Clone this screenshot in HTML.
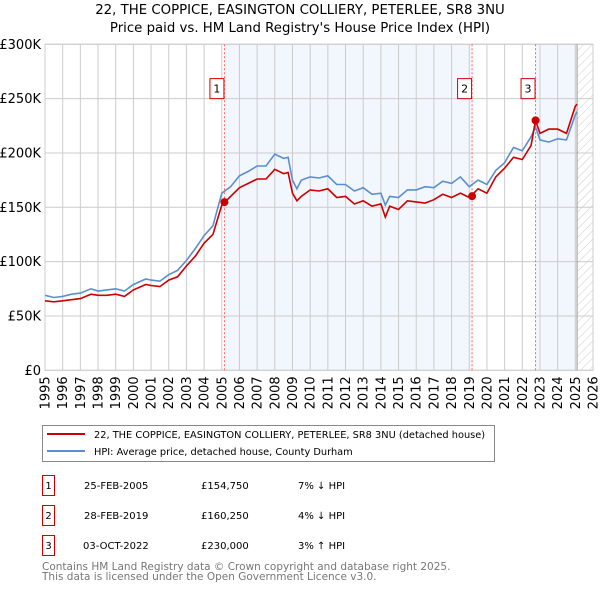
<!DOCTYPE html>
<html><head><meta charset="utf-8"><style>
body{margin:0;background:#fff;font-family:"DejaVu Sans","Liberation Sans",sans-serif;}
svg text{font-family:"DejaVu Sans","Liberation Sans",sans-serif;}
</style></head><body>
<svg id="c" width="600" height="590" xmlns="http://www.w3.org/2000/svg">
<defs><pattern id="hatch" width="6" height="6" patternUnits="userSpaceOnUse" patternTransform="rotate(45)"><line x1="0" y1="0" x2="0" y2="6" stroke="#ccc" stroke-width="1"/></pattern></defs>
<text x="300" y="14" text-anchor="middle" font-size="13.3" fill="#000">22, THE COPPICE, EASINGTON COLLIERY, PETERLEE, SR8 3NU</text>
<text x="300" y="32" text-anchor="middle" font-size="13.3" fill="#000">Price paid vs. HM Land Registry's House Price Index (HPI)</text>
<g id="plot"></g>
<g>
<rect x="42.5" y="425.5" width="452" height="36" fill="#fff" stroke="#888"/>
<line x1="47" y1="434" x2="85" y2="434" stroke="#cc0000" stroke-width="2"/>
<text x="94" y="438" font-size="9.8">22, THE COPPICE, EASINGTON COLLIERY, PETERLEE, SR8 3NU (detached house)</text>
<line x1="47" y1="451" x2="85" y2="451" stroke="#5b8fd0" stroke-width="2"/>
<text x="94" y="455" font-size="9.8">HPI: Average price, detached house, County Durham</text>
</g>
<g font-size="10">
<rect x="42.5" y="475.5" width="12" height="20" fill="#fff" stroke="#cc0000"/><text x="48.5" y="489" text-anchor="middle">1</text>
<text x="84" y="489">25-FEB-2005</text><text x="201" y="489">£154,750</text><text x="298" y="489">7% ↓ HPI</text>
<rect x="42.5" y="505.5" width="12" height="20" fill="#fff" stroke="#cc0000"/><text x="48.5" y="519" text-anchor="middle">2</text>
<text x="84" y="519">28-FEB-2019</text><text x="201" y="519">£160,250</text><text x="298" y="519">4% ↓ HPI</text>
<rect x="42.5" y="535.5" width="12" height="20" fill="#fff" stroke="#cc0000"/><text x="48.5" y="549" text-anchor="middle">3</text>
<text x="83" y="549">03-OCT-2022</text><text x="201" y="549">£230,000</text><text x="298" y="549">3% ↑ HPI</text>
</g>
<text x="42" y="570" font-size="10.5" fill="#777">Contains HM Land Registry data © Crown copyright and database right 2025.</text>
<text x="42" y="580" font-size="10.5" fill="#777">This data is licensed under the Open Government Licence v3.0.</text>
</svg>
<script>
const yTicks=[0,50,100,150,200,250,300];
const yTickLabels=["£0","£50K","£100K","£150K","£200K","£250K","£300K"];
const xTickYears=[1995,1996,1997,1998,1999,2000,2001,2002,2003,2004,2005,2006,2007,2008,2009,2010,2011,2012,2013,2014,2015,2016,2017,2018,2019,2020,2021,2022,2023,2024,2025,2026];
const hpiYears=[1995,1995.5,1996,1996.5,1997,1997.6,1998,1998.5,1999,1999.5,2000,2000.7,2001,2001.5,2002,2002.5,2003,2003.5,2004,2004.5,2005,2005.5,2006,2006.5,2007,2007.5,2008,2008.5,2008.75,2009,2009.25,2009.5,2010,2010.5,2011,2011.5,2012,2012.5,2013,2013.5,2014,2014.25,2014.5,2015,2015.5,2016,2016.5,2017,2017.5,2018,2018.5,2019,2019.5,2020,2020.5,2021,2021.5,2022,2022.5,2022.75,2023,2023.5,2024,2024.5,2025,2025.1];
const hpiValues=[69,67,68,70,71,75,73,74,75,73,79,84,83,82,88,92,101,112,124,133,163,169,179,183,188,188,199,195,196,175,167,175,178,177,179,171,171,165,168,162,163,152,160,159,166,166,169,168,174,172,178,169,175,171,184,191,205,202,215,224,212,210,213,212,235,238];
const priceValues=[64,63,64,65,66,70,69,69,70,68,74,79,78,77,83,86,96,105,117,125,152,160,168,172,176,176,185,181,182,163,156,160,166,165,167,159,160,153,156,151,153,141,151,148,156,155,154,157,162,159,163,159,167,163,178,186,196,194,207,230,218,222,222,218,243,245];
const saleYears=[2005.15,2019.16,2022.75];
const saleValues=[154.75,160.25,230];
const saleLabels=["1","2","3"];
const NS="http://www.w3.org/2000/svg";
const L=45,R=593,T=44.3,B=370.3;
const x=v=>L+(v-1995)/31*(R-L);
const y=v=>B-v/300*(B-T);
const g=document.getElementById('plot');
function mk(t,a,p){const e=document.createElementNS(NS,t);for(const k in a)e.setAttribute(k,a[k]);(p||g).appendChild(e);return e;}
let s1=mk('rect',{x:x(saleYears[0]),y:T,width:x(saleYears[1])-x(saleYears[0]),height:B-T,fill:'#f2f6fd'});


let s2=mk('rect',{x:x(saleYears[2]),y:T,width:x(2025.1)-x(saleYears[2]),height:B-T,fill:'#f2f6fd'});


let h=mk('rect',{x:x(2025.1),y:T,width:R-x(2025.1),height:B-T,fill:'url(#hatch)'});


xTickYears.forEach(v=>{const l=mk('line',{x1:x(v),x2:x(v),y1:T,y2:B,stroke:'#ccc'});


const t=mk('text',{x:0,y:0,'font-size':13,'text-anchor':'end',transform:`translate(${x(v)+4.5},${B+6}) rotate(-90)`});t.textContent=v;

});
yTicks.forEach((v,i)=>{const l=mk('line',{x1:L,x2:R,y1:y(v),y2:y(v),stroke:'#ccc'});


const t=mk('text',{x:L-4,y:y(v)+4.5,'font-size':13,'text-anchor':'end'});t.textContent=yTickLabels[i];

});
let fr=mk('rect',{x:L,y:T,width:R-L,height:B-T,fill:'none',stroke:'#ccc'});


let el=mk('line',{x1:x(2025.1),x2:x(2025.1),y1:T,y2:B,stroke:'#999'});


saleYears.forEach((v,i)=>{const l=mk('line',{x1:x(v),x2:x(v),y1:T,y2:B,stroke:'#f66','stroke-dasharray':'2,2'});


const r=mk('rect',{x:x(v)-14.5,y:y(250)-20,width:14,height:20,fill:'#fff',stroke:'#cc0000'});


const t=mk('text',{x:x(v)-7.5,y:y(250)-6,'font-size':11,'text-anchor':'middle'});t.textContent=saleLabels[i];

});
const pts=(vals)=>hpiYears.map((yr,i)=>x(yr).toFixed(1)+','+y(vals[i]).toFixed(1)).join(' ');
let hp=mk('polyline',{points:pts(hpiValues),fill:'none',stroke:'#5b8fd0','stroke-width':1.6});


let pp=mk('polyline',{points:pts(priceValues),fill:'none',stroke:'#cc0000','stroke-width':1.6});


saleYears.forEach((v,i)=>{const c=mk('circle',{cx:x(v),cy:y(saleValues[i]),r:4,fill:'#cc0000'});

});
</script>
</body></html>
